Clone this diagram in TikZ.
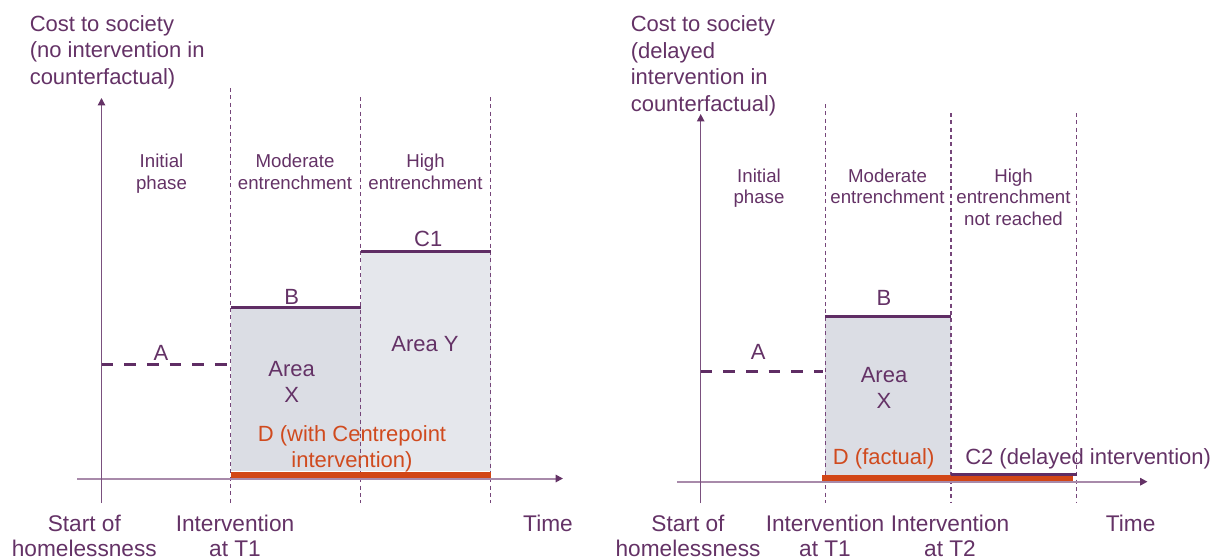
\documentclass[tikz,border=0pt]{standalone}
\usepackage{fontspec}
\setmainfont{Liberation Sans}
\usetikzlibrary{arrows.meta}
\definecolor{ink}{RGB}{100,50,102}
\definecolor{levelc}{RGB}{95,45,100}
\definecolor{axisx}{RGB}{168,138,170}
\definecolor{axisy}{RGB}{122,80,126}
\definecolor{guide}{RGB}{118,70,122}
\definecolor{redbar}{RGB}{210,70,22}
\definecolor{redtext}{RGB}{208,74,30}
\definecolor{areaX}{RGB}{219,221,228}
\definecolor{areaY}{RGB}{229,231,236}
\tikzset{
  ttl/.style={font=\fontsize{16.5}{19.9}\selectfont, text=ink, align=left, inner sep=0pt, anchor=north west},
  phase/.style={font=\fontsize{14}{16.4}\selectfont, text=ink, align=center, inner sep=0pt, anchor=north},
  lbl/.style={font=\fontsize{16.5}{19.9}\selectfont, text=ink, inner sep=0pt, anchor=base},
  lbl2/.style={font=\fontsize{16.5}{19.9}\selectfont, text=ink, align=center, inner sep=0pt, anchor=north},
  redlbl/.style={font=\fontsize{16.5}{19.3}\selectfont, text=redtext, align=center, inner sep=0pt},
  bottom/.style={font=\fontsize{17}{19.2}\selectfont, text=ink, align=center, inner sep=0pt, anchor=north},
  guideline/.style={draw=guide, line width=0.8pt, dash pattern=on 3pt off 2.5pt},
  level/.style={draw=levelc, line width=2.5pt},
  startlevel/.style={draw=levelc, line width=2.25pt, dash pattern=on 8.8pt off 8.2pt},
  redline/.style={draw=redbar, line width=4.1pt},
  yaxis/.style={draw=axisy, line width=1pt, -{Triangle[length=5.5pt,width=5.5pt,color=ink]}},
  xaxis/.style={draw=axisx, line width=1.5pt, -{Triangle[length=5.5pt,width=5.5pt,color=ink]}},
}
\begin{document}
\begin{tikzpicture}[x=0.75pt,y=-0.75pt]
\useasboundingbox (0,0) rectangle (1214,558);

% ---------------- left chart: no intervention in counterfactual ----------------
\coordinate (LyB) at (101.5,503);  \coordinate (LyT) at (101.5,98);
\coordinate (LxL) at (77,478.5);   \coordinate (LxR) at (563,478.5);
\coordinate (LT1) at (230.7,0);    \coordinate (LM) at (360.7,0);  \coordinate (LE) at (490.7,0);

\fill[areaX] (230.7,307.7) rectangle (360.7,471.3);
\fill[areaY] (360.7,251.7) rectangle (490.7,471.3);

\draw[guideline] (230.7,88) -- (230.7,503);
\draw[guideline] (360.7,97) -- (360.7,503);
\draw[guideline] (490.7,97) -- (490.7,503);

\draw[level] (230.7,307.7) -- (360.7,307.7);
\draw[level] (360.7,251.7) -- (490.7,251.7);
\draw[startlevel] (101.5,364.5) -- (227,364.5);

\draw[xaxis] (LxL) -- (LxR);
\draw[yaxis] (LyB) -- (LyT);
\draw[redline] (230.7,475) -- (490.7,475);

\node[ttl] (ltitle) at (29.5,15) {Cost to society\\(no intervention in\\counterfactual)};
\node[phase] (lph1) at (161.5,154) {Initial\\phase};
\node[phase] (lph2) at (295,154) {Moderate\\entrenchment};
\node[phase] (lph3) at (425.5,154) {High\\entrenchment};
\node[lbl] (lC1) at (428.3,246.7) {C1};
\node[lbl] (lB) at (291.7,304) {B};
\node[lbl] (lA) at (161,360) {A};
\node[lbl] (lY) at (425,351.7) {Area Y};
\node[lbl2] (lX) at (291.7,360.8) {Area\\X};
\node[redlbl, anchor=north] (lD) at (352,425.5) {D (with Centrepoint\\intervention)};
\node[bottom] (ls) at (84.3,514.5) {Start of\\homelessness};
\node[bottom] (lt1) at (235,514.5) {Intervention\\at T1};
\node[lbl, font=\fontsize{17}{19.2}\selectfont] (ltime) at (548,531) {Time};

% ---------------- right chart: delayed intervention in counterfactual ----------------
\coordinate (RyB) at (700.7,503);  \coordinate (RyT) at (700.7,114);
\coordinate (RxL) at (677,481.7);  \coordinate (RxR) at (1147.5,481.7);

\fill[areaX] (825.3,316.7) rectangle (951,474.5);

\draw[guideline] (825.3,104) -- (825.3,503);
\draw[guideline] (951,113) -- (951,503);
\draw[guideline] (1076.7,113) -- (1076.7,503);

\draw[level] (825.3,316.7) -- (951,316.7);
\draw[startlevel] (700.7,371) -- (822.7,371);

\draw[xaxis] (RxL) -- (RxR);
\draw[yaxis] (RyB) -- (RyT);
\draw[redline] (822.3,478.2) -- (1072.7,478.2);
\draw[level] (951,474.3) -- (1076.7,474.3);

\node[ttl] (rtitle) at (630.5,15.5) {Cost to society\\(delayed\\intervention in\\counterfactual)};
\node[phase] (rph1) at (759,168.3) {Initial\\phase};
\node[phase] (rph2) at (887.5,168.3) {Moderate\\entrenchment};
\node[phase] (rph3) at (1013.5,168.3) {High\\entrenchment\\not reached};
\node[lbl] (rB) at (884,305) {B};
\node[lbl] (rA) at (758.3,359) {A};
\node[lbl2] (rX) at (884,367) {Area\\X};
\node[redlbl, anchor=base] (rD) at (883.7,464.3) {D (factual)};
\node[lbl, anchor=base west] (rC2) at (965,464.3) {C2 (delayed intervention)};
\node[bottom] (rs) at (688,514.5) {Start of\\homelessness};
\node[bottom] (rt1) at (825,514.5) {Intervention\\at T1};
\node[bottom] (rt2) at (950,514.5) {Intervention\\at T2};
\node[lbl, font=\fontsize{17}{19.2}\selectfont] (rtime) at (1130.6,531) {Time};
\end{tikzpicture}
\end{document}
